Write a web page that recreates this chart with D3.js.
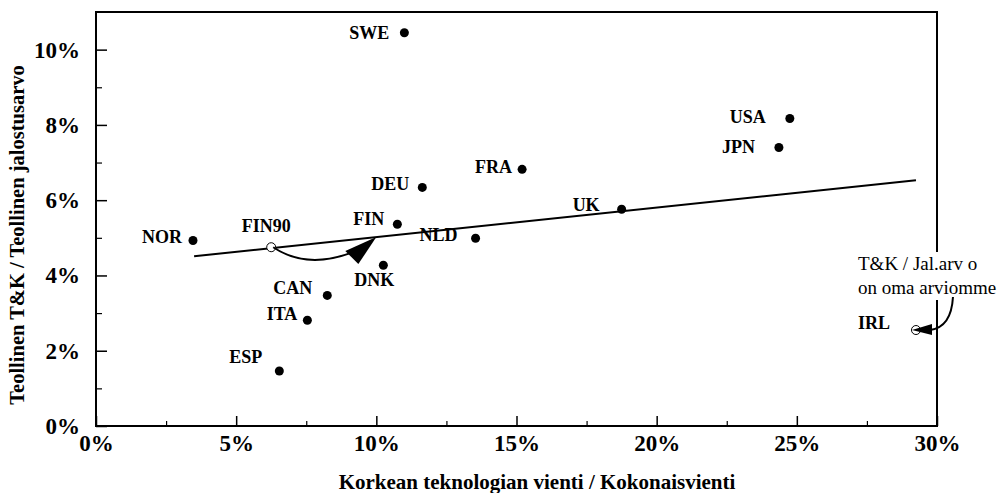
<!DOCTYPE html>
<html><head><meta charset="utf-8">
<script src="https://cdn.jsdelivr.net/npm/d3@7"></script>
<style>
html,body{margin:0;padding:0;background:#fff;}
svg{display:block;}
</style></head>
<body>
<svg id="chart" width="1003" height="493"></svg>
<script>
// ---- data ----
const countries = ["SWE","USA","JPN","FRA","DEU","UK","FIN","NLD","NOR","DNK","CAN","ITA","ESP"];
const hightechShare = [11.0,24.75,24.36,15.2,11.64,18.75,10.75,13.54,3.46,10.25,8.25,7.54,6.54];
const rndShare = [10.45,8.17,7.40,6.82,6.34,5.76,5.36,4.99,4.93,4.27,3.47,2.81,1.46];
const openNames = ["FIN90","IRL"];
const openX = [6.25,29.25];
const openY = [4.75,2.55];
const trendX = [3.5,29.25];
const trendY = [4.51,6.53];
const xTicks = [0,5,10,15,20,25,30];
const yTicks = [0,2,4,6,8,10];
const xTitle = "Korkean teknologian vienti / Kokonaisvienti";
const yTitle = "Teollinen T&K / Teollinen jalostusarvo";
const noteLines = ["T&K / Jal.arv o","on oma arviomme"];

// label offsets (px) per point
const labelPos = {
  SWE:[-15,0,"end"], USA:[-24,-2,"end"], JPN:[-24,-1,"end"], FRA:[-10,-3,"end"],
  DEU:[-13,-4,"end"], UK:[-22,-5,"end"], FIN:[-13,-6,"end"], NLD:[-18,-3,"end"],
  NOR:[-11,-4,"end"], DNK:[-9,14,"middle"], CAN:[-15,-8,"end"], ITA:[-10,-7,"end"],
  ESP:[-17,-14,"end"], FIN90:[-5,-22,"middle"], IRL:[-26,-7,"end"]
};

const svg = d3.select("#chart");
const L=96, R=937, T=12, B=426;
const x = d3.scaleLinear().domain([0,30]).range([L,R]);
const y = d3.scaleLinear().domain([0,11]).range([B,T]);
const serif = "'Liberation Serif','Times New Roman',serif";

// frame
svg.append("rect").attr("x",L).attr("y",T).attr("width",R-L).attr("height",B-T)
  .attr("fill","none").attr("stroke","#000").attr("stroke-width",2);

// x axis
const xAxis = d3.axisBottom(x).tickValues(xTicks).tickSize(-10).tickFormat(d=>d+"%").tickPadding(9);
const gx = svg.append("g").attr("transform",`translate(0,${B})`).call(xAxis);
gx.select(".domain").remove();
gx.selectAll("line").attr("stroke","#000").attr("stroke-width",1.5);
gx.selectAll("text").attr("font-family",serif).attr("font-weight","bold").attr("font-size",23).attr("fill","#000");
const xMinor = d3.axisBottom(x).tickValues([2.5,7.5,12.5,17.5,22.5,27.5]).tickSize(-5).tickFormat("");
const gxm = svg.append("g").attr("transform",`translate(0,${B})`).call(xMinor);
gxm.select(".domain").remove();
gxm.selectAll("line").attr("stroke","#000").attr("stroke-width",1.2);

// y axis
const yAxis = d3.axisLeft(y).tickValues(yTicks).tickSize(-11).tickFormat(d=>d+"%").tickPadding(16);
const gy = svg.append("g").attr("transform",`translate(${L},0)`).call(yAxis);
gy.select(".domain").remove();
gy.selectAll("line").attr("stroke","#000").attr("stroke-width",1.5);
gy.selectAll("text").attr("font-family",serif).attr("font-weight","bold").attr("font-size",23).attr("fill","#000");
const yMinor = d3.axisLeft(y).tickValues([1,3,5,7,9]).tickSize(-6).tickFormat("");
const gym = svg.append("g").attr("transform",`translate(${L},0)`).call(yMinor);
gym.select(".domain").remove();
gym.selectAll("line").attr("stroke","#000").attr("stroke-width",1.2);

// titles
svg.append("text").attr("x",537).attr("y",489).attr("text-anchor","middle")
  .attr("font-family",serif).attr("font-weight","bold").attr("font-size",21).text(xTitle);
svg.append("text").attr("transform","translate(24,235) rotate(-90)").attr("text-anchor","middle")
  .attr("font-family",serif).attr("font-weight","bold").attr("font-size",20.5).text(yTitle);

// trend line
svg.append("line").attr("x1",x(trendX[0])).attr("y1",y(trendY[0]))
  .attr("x2",x(trendX[1])).attr("y2",y(trendY[1])).attr("stroke","#000").attr("stroke-width",2);

// filled points
const pts = countries.map((c,i)=>({name:c,x:hightechShare[i],y:rndShare[i]}));
svg.append("g").selectAll("circle").data(pts).join("circle")
  .attr("cx",d=>x(d.x)).attr("cy",d=>y(d.y)).attr("r",4.5).attr("fill","#000");

// open points
const opts = openNames.map((n,i)=>({name:n,x:openX[i],y:openY[i]}));
svg.append("g").selectAll("circle").data(opts).join("circle")
  .attr("cx",d=>x(d.x)).attr("cy",d=>y(d.y)).attr("r",4.5).attr("fill","#fff")
  .attr("stroke","#000").attr("stroke-width",1);

// labels
svg.append("g").selectAll("text").data(pts.concat(opts)).join("text")
  .attr("x",d=>x(d.x)+labelPos[d.name][0]).attr("y",d=>y(d.y)+labelPos[d.name][1])
  .attr("dy","0.35em").attr("text-anchor",d=>labelPos[d.name][2])
  .attr("font-family",serif).attr("font-weight","bold").attr("font-size",18).attr("fill","#000")
  .text(d=>d.name);

// FIN90 -> FIN arrow (curved)
const a0=[x(6.25),y(4.75)], tip=[x(10.0),y(5.02)];
svg.append("path")
  .attr("d",`M${a0[0]+2},${a0[1]} Q${a0[0]+35},${a0[1]+22} ${tip[0]-26},${tip[1]+16}`)
  .attr("fill","none").attr("stroke","#000").attr("stroke-width",2);
svg.append("path")
  .attr("d",`M${tip[0]},${tip[1]} L${tip[0]-31},${tip[1]+14} L${tip[0]-18},${tip[1]+27} Z`)
  .attr("fill","#000");

// annotation text with white background
const noteG = svg.append("g");
noteG.append("rect").attr("x",855).attr("y",252).attr("width",146).attr("height",48).attr("fill","#fff");
noteLines.forEach((t,i)=>{
  noteG.append("text").attr("x",858).attr("y",270+i*24).attr("font-family",serif)
    .attr("font-size",19).attr("fill","#000").text(t);
});
// IRL arrow
const irl=[x(29.25),y(2.55)];
svg.append("path")
  .attr("d",`M${irl[0]+37},${irl[1]-33} C${irl[0]+36},${irl[1]-15} ${irl[0]+30},${irl[1]-2} ${irl[0]+14},${irl[1]}`)
  .attr("fill","none").attr("stroke","#000").attr("stroke-width",2);
svg.append("path")
  .attr("d",`M${irl[0]-4},${irl[1]} L${irl[0]+16},${irl[1]-6} L${irl[0]+16},${irl[1]+5} Z`)
  .attr("fill","#000");
</script>
</body></html>
